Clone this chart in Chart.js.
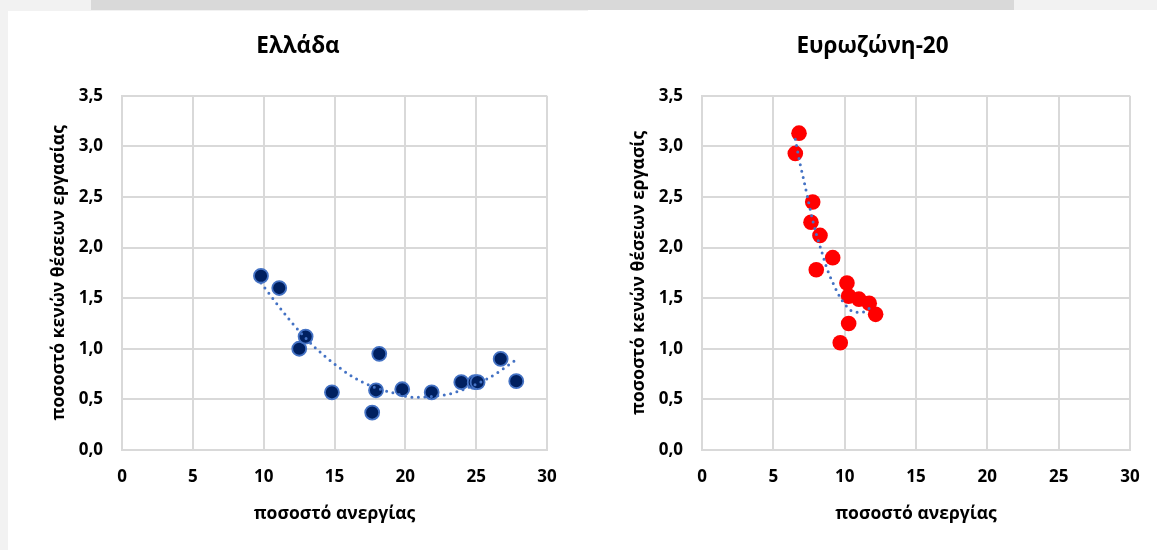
<!DOCTYPE html>
<html>
<head>
<meta charset="utf-8">
<script src="https://cdn.jsdelivr.net/npm/chart.js@4.4.1/dist/chart.umd.min.js"></script>
<style>
  html, body { margin: 0; padding: 0; }
  body { width: 1157px; height: 550px; background: #f2f2f2; position: relative; overflow: hidden; }
  #strip { position: absolute; left: 91px; top: 0; width: 923px; height: 10px; background: #d9d9d9; }
  .panel { position: absolute; background: #ffffff; }
  #p1 { left: 8px; top: 11px; width: 580px; height: 539px; }
  #p2 { left: 588px; top: 10px; width: 569px; height: 540px; }
  canvas { display: block; }
</style>
</head>
<body>
<div id="strip"></div>
<div class="panel" id="p1"><canvas id="c1" width="580" height="539"></canvas></div>
<div class="panel" id="p2"><canvas id="c2" width="569" height="540"></canvas></div>
<script>
// ---- data ----
const titleLeft = 'Ελλάδα';
const titleRight = 'Ευρωζώνη-20';
const xAxisTitle = 'ποσοστό ανεργίας';
const yAxisTitleLeft = 'ποσοστό κενών θέσεων εργασίας';
const yAxisTitleRight = 'ποσοστό κενών θέσεων εργασίς';

const xTickLabels = ['0', '5', '10', '15', '20', '25', '30'];
const yTickLabels = ['0,0', '0,5', '1,0', '1,5', '2,0', '2,5', '3,0', '3,5'];

// Greece: unemployment rate (x) and job vacancy rate (y)
const greeceUnemployment = [9.81, 11.10, 12.51, 12.96, 14.82, 17.66, 17.93, 18.16, 19.78, 21.86, 23.95, 24.90, 25.10, 26.73, 27.83];
const greeceVacancy      = [1.72, 1.60, 1.00, 1.12, 0.57, 0.37, 0.59, 0.95, 0.60, 0.57, 0.67, 0.67, 0.67, 0.90, 0.68];
// Greece trendline
const greeceTrendX = [9.81, 11.98, 13.57, 14.91, 16.32, 17.45, 18.98, 20.73, 21.86, 23.03, 24.14, 25.74, 26.68, 27.70];
const greeceTrendY = [1.65, 1.26, 1.02, 0.86, 0.72, 0.64, 0.57, 0.52, 0.53, 0.55, 0.60, 0.70, 0.78, 0.88];

// Euro area-20
const euroUnemployment = [6.80, 6.54, 7.76, 7.64, 8.27, 9.16, 8.01, 10.16, 10.28, 11.00, 11.72, 12.17, 10.28, 9.69];
const euroVacancy      = [3.13, 2.93, 2.45, 2.25, 2.12, 1.90, 1.78, 1.65, 1.52, 1.49, 1.45, 1.34, 1.25, 1.06];
const euroTrendX = [6.54, 6.87, 7.13, 7.50, 7.76, 8.06, 8.39, 8.74, 9.18, 9.67, 10.02, 10.42, 10.93, 11.47, 11.93];
const euroTrendY = [3.07, 2.83, 2.67, 2.43, 2.27, 2.11, 1.96, 1.80, 1.65, 1.51, 1.44, 1.38, 1.36, 1.37, 1.43];

// ---- helpers ----
const FONT = "'Open Sans', 'DejaVu Sans', sans-serif";
const zip = (xs, ys) => xs.map((x, i) => ({ x: x, y: ys[i] }));
const gridColor = '#d9d9d9';

function makeChart(canvasId, cfg) {
  const trend = {
    type: 'line',
    data: zip(cfg.trendX, cfg.trendY),
    showLine: true,
    borderColor: '#4472c4',
    borderWidth: 3,
    borderDash: [0, 6.5],
    borderCapStyle: 'round',
    cubicInterpolationMode: 'monotone',
    pointRadius: 0,
    pointHoverRadius: 0,
    fill: false,
    order: 0
  };
  const pts = {
    type: 'scatter',
    data: zip(cfg.xs, cfg.ys),
    backgroundColor: cfg.pointFill,
    borderColor: cfg.pointBorder,
    borderWidth: cfg.pointBorderWidth,
    pointRadius: cfg.pointRadius,
    pointHoverRadius: cfg.pointRadius,
    order: 1
  };
  return new Chart(document.getElementById(canvasId), {
    type: 'scatter',
    data: { datasets: [pts, trend] },
    options: {
      responsive: false,
      animation: false,
      events: [],
      layout: { padding: 0 },
      plugins: {
        legend: { display: false },
        tooltip: { enabled: false },
        title: {
          display: true,
          text: cfg.title,
          color: '#000000',
          font: { family: FONT, size: 22.5, weight: 'bold', lineHeight: 1.2 },
          padding: { top: cfg.titleTop, bottom: cfg.titleBottom }
        }
      },
      scales: {
        x: {
          type: 'linear',
          min: 0, max: 30,
          afterFit: (s) => { s.height = 100; },
          afterBuildTicks: (s) => { s.ticks = xTickLabels.map((t) => ({ value: parseFloat(t) })); },
          ticks: {
            padding: 17,
            color: '#000000',
            font: { family: FONT, size: 17, weight: 'bold' },
            callback: (v, i) => xTickLabels[i],
            maxRotation: 0
          },
          grid: { color: gridColor, lineWidth: 2, drawTicks: false },
          border: { color: gridColor, width: 2 },
          title: {
            display: true,
            text: xAxisTitle,
            color: '#000000',
            font: { family: FONT, size: 17.5, weight: 'bold', lineHeight: 1.2 },
            padding: { top: 0, bottom: 25 }
          }
        },
        y: {
          type: 'linear',
          min: 0, max: 3.5,
          afterFit: (s) => { s.width = 114; },
          afterBuildTicks: (s) => { s.ticks = yTickLabels.map((t) => ({ value: parseFloat(t.replace(',', '.')) })); },
          ticks: {
            padding: 19,
            color: '#000000',
            font: { family: FONT, size: 17, weight: 'bold' },
            callback: (v, i) => yTickLabels[i]
          },
          grid: { color: gridColor, lineWidth: 2, drawTicks: false },
          border: { color: gridColor, width: 2 },
          title: {
            display: true,
            text: cfg.yTitle,
            color: '#000000',
            font: { family: FONT, size: 17.5, weight: 'bold', lineHeight: 1.2 },
            padding: { top: 41, bottom: 0 }
          }
        },
        // empty spacer on the right so the title stays centred on the whole panel
        spacer: {
          type: 'linear',
          position: 'right',
          afterFit: (s) => { s.width = cfg.rightPad; },
          grid: { display: false },
          border: { display: false },
          ticks: { display: false },
          title: { display: false }
        }
      }
    }
  });
}

makeChart('c1', {
  title: titleLeft, yTitle: yAxisTitleLeft,
  xs: greeceUnemployment, ys: greeceVacancy,
  trendX: greeceTrendX, trendY: greeceTrendY,
  pointFill: '#002060', pointBorder: '#4472c4', pointBorderWidth: 1.8, pointRadius: 7,
  rightPad: 41, titleTop: 22.5, titleBottom: 35.2
});
makeChart('c2', {
  title: titleRight, yTitle: yAxisTitleRight,
  xs: euroUnemployment, ys: euroVacancy,
  trendX: euroTrendX, trendY: euroTrendY,
  pointFill: '#ff0000', pointBorder: '#ff0000', pointBorderWidth: 0, pointRadius: 7.8,
  rightPad: 27, titleTop: 23.5, titleBottom: 35.2
});
</script>
</body>
</html>
